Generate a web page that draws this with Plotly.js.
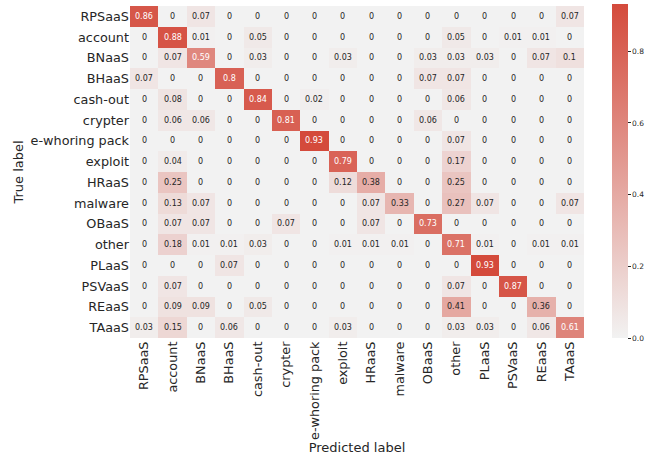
<!DOCTYPE html>
<html>
<head>
<meta charset="utf-8">
<script src="https://cdn.plot.ly/plotly-3.0.1.min.js"></script>
<style>html,body{margin:0;padding:0;background:#fff;}#chart{width:646px;height:456px;}</style>
</head>
<body>
<div id="chart"></div>
<script>
const labels = ["RPSaaS","account","BNaaS","BHaaS","cash-out","crypter","e-whoring pack","exploit","HRaaS","malware","OBaaS","other","PLaaS","PSVaaS","REaaS","TAaaS"];

const rowRPSaaS  = [0.86,0,0.07,0,0,0,0,0,0,0,0,0,0,0,0,0.07];
const rowAccount = [0,0.88,0.01,0,0.05,0,0,0,0,0,0,0.05,0,0.01,0.01,0];
const rowBNaaS   = [0,0.07,0.59,0,0.03,0,0,0.03,0,0,0.03,0.03,0.03,0,0.07,0.1];
const rowBHaaS   = [0.07,0,0,0.8,0,0,0,0,0,0,0.07,0.07,0,0,0,0];
const rowCashout = [0,0.08,0,0,0.84,0,0.02,0,0,0,0,0.06,0,0,0,0];
const rowCrypter = [0,0.06,0.06,0,0,0.81,0,0,0,0,0.06,0,0,0,0,0];
const rowEwhoring= [0,0,0,0,0,0,0.93,0,0,0,0,0.07,0,0,0,0];
const rowExploit = [0,0.04,0,0,0,0,0,0.79,0,0,0,0.17,0,0,0,0];
const rowHRaaS   = [0,0.25,0,0,0,0,0,0.12,0.38,0,0,0.25,0,0,0,0];
const rowMalware = [0,0.13,0.07,0,0,0,0,0,0.07,0.33,0,0.27,0.07,0,0,0.07];
const rowOBaaS   = [0,0.07,0.07,0,0,0.07,0,0,0.07,0,0.73,0,0,0,0,0];
const rowOther   = [0,0.18,0.01,0.01,0.03,0,0,0.01,0.01,0.01,0,0.71,0.01,0,0.01,0.01];
const rowPLaaS   = [0,0,0,0.07,0,0,0,0,0,0,0,0,0.93,0,0,0];
const rowPSVaaS  = [0,0.07,0,0,0,0,0,0,0,0,0,0.07,0,0.87,0,0];
const rowREaaS   = [0,0.09,0.09,0,0.05,0,0,0,0,0,0,0.41,0,0,0.36,0];
const rowTAaaS   = [0.03,0.15,0,0.06,0,0,0,0.03,0,0,0,0.03,0.03,0,0.06,0.61];

const matrix = [rowRPSaaS,rowAccount,rowBNaaS,rowBHaaS,rowCashout,rowCrypter,rowEwhoring,rowExploit,rowHRaaS,rowMalware,rowOBaaS,rowOther,rowPLaaS,rowPSVaaS,rowREaaS,rowTAaaS];
const cbTicks = [0,0.2,0.4,0.6,0.8];
const cbTickText = ["0.0","0.2","0.4","0.6","0.8"];

const annotations = [];
matrix.forEach((row, i) => {
  row.forEach((v, j) => {
    annotations.push({
      x: labels[j], y: labels[i], xref: 'x', yref: 'y',
      text: String(v), showarrow: false,
      font: {family: 'DejaVu Sans', size: 8, color: v >= 0.5 ? '#ffffff' : '#262626'}
    });
  });
});

const trace = {
  type: 'heatmap',
  z: matrix, x: labels, y: labels,
  zmin: 0, zmax: 0.93,
  colorscale: [[0,'#f2f2f2'],[1,'#d44a3b']],
  xgap: 0, ygap: 0,
  hoverinfo: 'skip',
  colorbar: {
    x: 612/646, xref: 'container', xanchor: 'left', xpad: 0,
    y: 1 - 6/456, yref: 'container', yanchor: 'top', ypad: 0,
    len: 334, lenmode: 'pixels', thickness: 16,
    outlinewidth: 0,
    tickvals: cbTicks, ticktext: cbTickText,
    ticks: 'outside', ticklen: 3, tickwidth: 1, tickcolor: '#262626',
    tickfont: {family: 'DejaVu Sans', size: 7.5, color: '#262626'}
  }
};

const layout = {
  width: 646, height: 456,
  margin: {l: 130, r: 62, t: 6, b: 118},
  paper_bgcolor: '#ffffff', plot_bgcolor: '#ffffff',
  font: {family: 'DejaVu Sans', color: '#262626'},
  xaxis: {
    type: 'category', tickangle: -90, ticks: '', showgrid: false, zeroline: false,
    tickfont: {size: 12.8, color: '#262626'},
    title: {text: 'Predicted label', font: {size: 13, color: '#262626'}, standoff: 2},
    automargin: false
  },
  yaxis: {
    type: 'category', autorange: 'reversed', ticks: '', showgrid: false, zeroline: false,
    tickfont: {size: 12.8, color: '#262626'},
    title: {text: 'True label', font: {size: 13, color: '#262626'}, standoff: 4},
    automargin: false
  },
  annotations: annotations
};

Plotly.newPlot('chart', [trace], layout, {displayModeBar: false, staticPlot: true});
</script>
</body>
</html>
